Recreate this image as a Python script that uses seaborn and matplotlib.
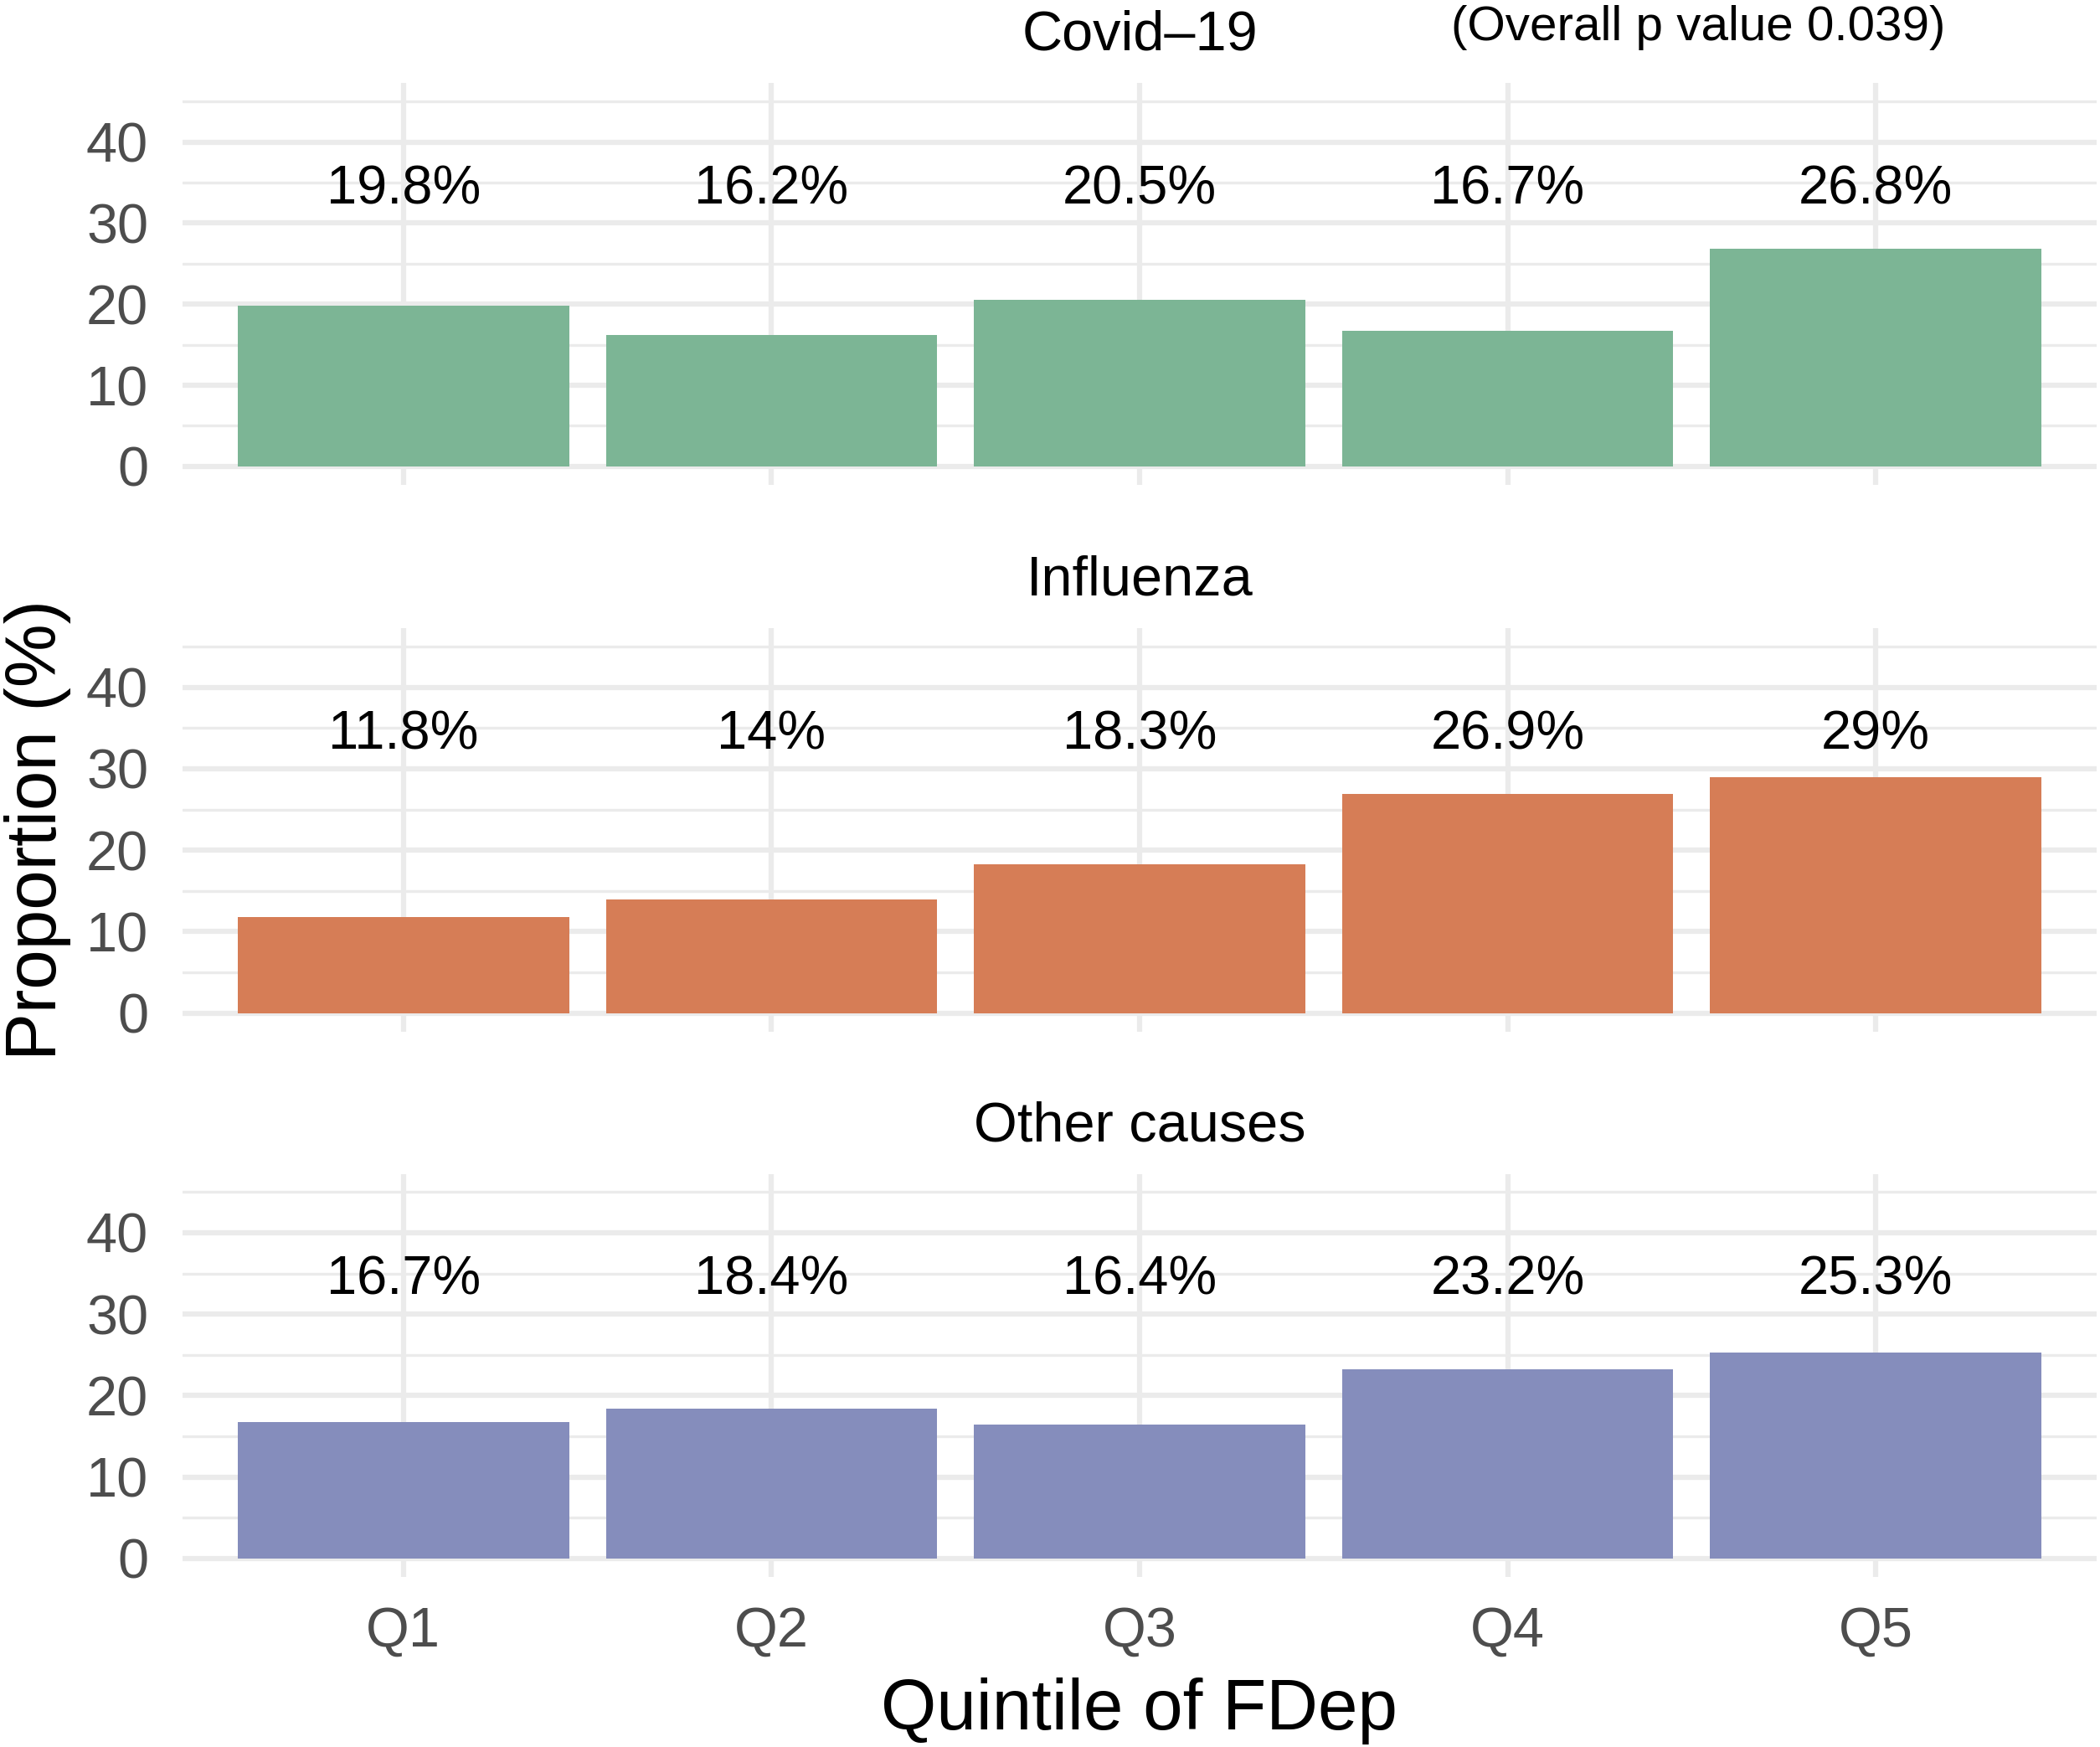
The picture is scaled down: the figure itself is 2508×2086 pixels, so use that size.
import matplotlib
matplotlib.use("Agg")
import matplotlib.pyplot as plt
import seaborn as sns
import pandas as pd
from matplotlib.ticker import FixedLocator

# ---------------- data ----------------
quintiles = ["Q1", "Q2", "Q3", "Q4", "Q5"]
causes = ["Covid\u201319", "Influenza", "Other causes"]
covid = [19.8, 16.2, 20.5, 16.7, 26.8]
influenza = [11.8, 14.0, 18.3, 26.9, 29.0]
other = [16.7, 18.4, 16.4, 23.2, 25.3]
colors = ["#7CB595", "#D67D56", "#858DBC"]
y_ticks = [0, 10, 20, 30, 40]
y_minor = [5, 15, 25, 35, 45]
p_text = "(Overall p value 0.039)"
x_title = "Quintile of FDep"
y_title = "Proportion (%)"
LABEL_Y = 32.4

# ---------------- layout ----------------
W, H = 2508, 2086
DPI = 300
sns.set_theme(style="white")
plt.rcParams['font.family'] = ['Liberation Sans', 'DejaVu Sans']

fig = plt.figure(figsize=(W / DPI, H / DPI), dpi=DPI)
panel_px = [(99.4, 578.6), (750.3, 1231.5), (1401.5, 1882.7)]
left_px, right_px = 218, 2504


def fx(px):
    return px / W


def fy(py):
    return 1 - py / H


grid_col = "#EBEBEB"
series = [covid, influenza, other]
for i, (name, vals, col) in enumerate(zip(causes, series, colors)):
    top, bot = panel_px[i]
    ax = fig.add_axes([fx(left_px), fy(bot), (right_px - left_px) / W, (bot - top) / H])
    df = pd.DataFrame({"q": quintiles, "v": vals})
    sns.barplot(data=df, x="q", y="v", color=col, width=0.9, saturation=1,
                ax=ax, linewidth=0, errorbar=None)
    ax.set_xlim(-0.6, 4.6)
    ax.set_ylim(-2.25, 47.25)
    ax.yaxis.set_major_locator(FixedLocator(y_ticks))
    ax.yaxis.set_minor_locator(FixedLocator(y_minor))
    ax.set_axisbelow(True)
    ax.grid(which='major', axis='both', color=grid_col, lw=1.5)
    ax.grid(which='minor', axis='y', color=grid_col, lw=0.8)
    for s in ax.spines.values():
        s.set_visible(False)
    ax.tick_params(which='both', length=0)
    ax.tick_params(axis='y', labelsize=16, labelcolor='#4D4D4D', pad=9.8)
    ax.set_xlabel("")
    ax.set_ylabel("")
    for j, v in enumerate(vals):
        ax.text(j, LABEL_Y, f"{v:g}%", ha='center', va='baseline',
                fontsize=15.6, color='black')
    fig.text(fx((left_px + right_px) / 2), fy(top - 39.4), name, ha='center',
             va='baseline', fontsize=16, color='black')
    if i == 0:
        fig.text(fx(2028), fy(top - 51.0), p_text, ha='center', va='baseline',
                 fontsize=14, color='black')
    if i < 2:
        ax.tick_params(axis='x', labelbottom=False)
    else:
        ax.tick_params(axis='x', labelsize=16, labelcolor='#4D4D4D', pad=8.5)

fig.text(fx((left_px + right_px) / 2), fy(2065), x_title, ha='center',
         va='baseline', fontsize=20.5, color='black')
fig.text(fx(67), fy(991), y_title, ha='center', va='baseline', rotation=90,
         rotation_mode='anchor', fontsize=20.5, color='black')

fig.savefig("out.png", dpi=DPI)
